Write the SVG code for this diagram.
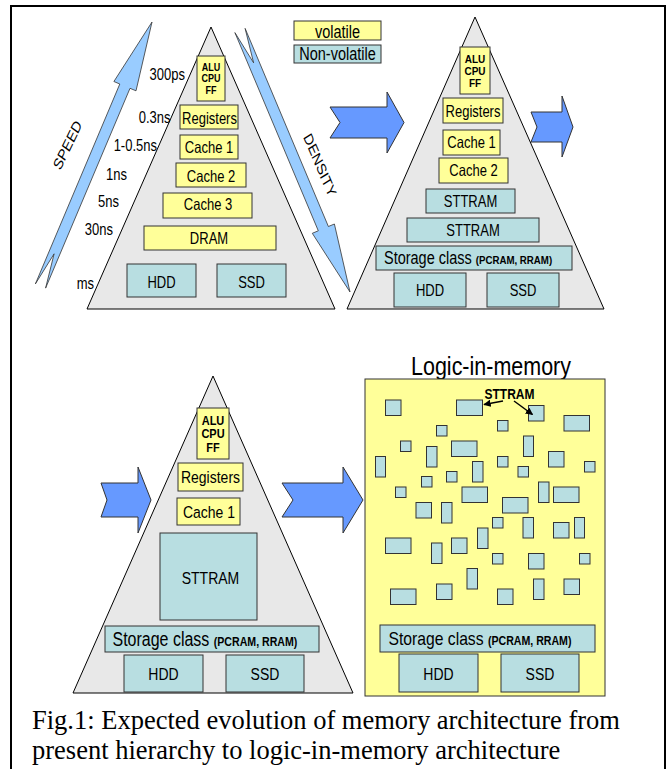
<svg xmlns="http://www.w3.org/2000/svg" width="670" height="769" viewBox="0 0 670 769">
<style>
.tri{fill:#E8E8E8;stroke:#000;stroke-width:1}
.v{fill:#FFFF99;stroke:#333;stroke-width:1}
.nv{fill:#B8DEE1;stroke:#333;stroke-width:1}
.ba{fill:#6699FF;stroke:#333;stroke-width:1}
.la{fill:#99CCFF;stroke:#333;stroke-width:0.8}
.t{font-family:"Liberation Sans",Arial,sans-serif;fill:#000;text-anchor:middle}
.s{text-anchor:start}
.e{text-anchor:end}
.b{font-weight:bold}
.cap{font-family:"Liberation Serif","Times New Roman",serif;fill:#000;font-size:26.5px}
.ptr{stroke:#000;stroke-width:1.5;fill:none;marker-end:url(#ah)}
</style>
<defs>
<marker id="ah" viewBox="0 0 10 10" refX="9" refY="5" markerWidth="5" markerHeight="5" orient="auto" markerUnits="strokeWidth">
<path d="M0,0 L10,5 L0,10 z" fill="#000"/>
</marker>
</defs>
<rect width="670" height="769" fill="#fff"/>
<g id="frame" fill="none" stroke="#000" stroke-width="2">
<path d="M11,769 V6 H665 V769"/>
</g>

<g id="pyr1">
<polygon class="tri" points="211,27 335,309 87,309"/>
<g id="p1-alu"><rect class="v" x="197" y="56" width="28" height="45"/>
<text class="t b" font-size="9" transform="translate(211,70.5) scale(1,1.15)">ALU</text>
<text class="t b" font-size="9" transform="translate(211,82.3) scale(1,1.15)">CPU</text>
<text class="t b" font-size="9" transform="translate(211,94.2) scale(1,1.15)">FF</text></g>
<g id="p1-reg"><rect class="v" x="180" y="105" width="58" height="24"/>
<text class="t" font-size="13" transform="translate(209.5,123.5) scale(1,1.22)">Registers</text></g>
<g id="p1-c1"><rect class="v" x="180" y="135" width="58" height="24"/>
<text class="t" font-size="13" transform="translate(209,152.5) scale(1,1.22)">Cache 1</text></g>
<g id="p1-c2"><rect class="v" x="176" y="163" width="70" height="24"/>
<text class="t" font-size="13" transform="translate(211,181.5) scale(1,1.22)">Cache 2</text></g>
<g id="p1-c3"><rect class="v" x="163" y="193" width="89" height="25"/>
<text class="t" font-size="13" transform="translate(208,210) scale(1,1.22)">Cache 3</text></g>
<g id="p1-dram"><rect class="v" x="144" y="226" width="132" height="24"/>
<text class="t" font-size="13" transform="translate(209,243.5) scale(1,1.22)">DRAM</text></g>
<g id="p1-hdd"><rect class="nv" x="127" y="264" width="69" height="33"/>
<text class="t" font-size="13" transform="translate(161.5,287.5) scale(1,1.22)">HDD</text></g>
<g id="p1-ssd"><rect class="nv" x="217" y="264" width="69" height="33"/>
<text class="t" font-size="13" transform="translate(251.5,287.5) scale(1,1.22)">SSD</text></g>
</g>

<g id="speed-labels">
<text class="t e" font-size="13" transform="translate(185,80) scale(1,1.22)">300ps</text>
<text class="t e" font-size="13" transform="translate(170.5,122.5) scale(1,1.22)">0.3ns</text>
<text class="t e" font-size="13" transform="translate(157,150.5) scale(1,1.22)">1-0.5ns</text>
<text class="t e" font-size="13" transform="translate(127,180) scale(1,1.22)">1ns</text>
<text class="t e" font-size="13" transform="translate(119,207) scale(1,1.22)">5ns</text>
<text class="t e" font-size="13" transform="translate(113,235) scale(1,1.22)">30ns</text>
<text class="t e" font-size="13" transform="translate(94,289) scale(1,1.22)">ms</text>
</g>

<g id="legend">
<g id="leg-v"><rect class="v" x="294" y="21" width="87" height="19"/>
<text class="t" font-size="14.5" transform="translate(337.5,37.5) scale(1,1.22)">volatile</text></g>
<g id="leg-nv"><rect class="nv" x="294" y="45" width="87" height="18"/>
<text class="t" font-size="14.5" transform="translate(337.5,60) scale(1,1.22)">Non-volatile</text></g>
</g>

<g id="speed-arrow">
<polygon class="la" points="35.4,283.9 119.8,84 113.9,81.5 152,22 136,90.8 130,88.3 45.6,288.1 54.1,253.8"/>
<text class="t" font-size="13" transform="translate(67.5,145) scale(1,1.22) rotate(-59.4)" y="4.5">SPEED</text>
</g>
<g id="density-arrow">
<polygon class="la" points="234.9,32.6 318.3,230.8 312.3,233.3 350,292 334.4,224 328.4,226.5 245.1,28.4 253.6,62.8"/>
<text class="t" font-size="13" transform="translate(320,165) scale(1,1.22) rotate(62.8)" y="4.5">DENSITY</text>
</g>

<g id="pyr2">
<polygon class="tri" points="475,17 604,309 347,309"/>
<g id="p2-alu"><rect class="v" x="460" y="47" width="30" height="47"/>
<text class="t b" font-size="10" transform="translate(475,63.3) scale(1,1.12)">ALU</text>
<text class="t b" font-size="10" transform="translate(475,75.3) scale(1,1.12)">CPU</text>
<text class="t b" font-size="10" transform="translate(475,87.3) scale(1,1.12)">FF</text></g>
<g id="p2-reg"><rect class="v" x="443" y="98" width="60" height="25"/>
<text class="t" font-size="13" transform="translate(473,116.5) scale(1,1.22)">Registers</text></g>
<g id="p2-c1"><rect class="v" x="443" y="130" width="57" height="25"/>
<text class="t" font-size="13" transform="translate(471.5,148) scale(1,1.22)">Cache 1</text></g>
<g id="p2-c2"><rect class="v" x="439" y="158" width="69" height="25"/>
<text class="t" font-size="13" transform="translate(473.5,176) scale(1,1.22)">Cache 2</text></g>
<g id="p2-st1"><rect class="nv" x="426" y="189" width="89" height="24"/>
<text class="t" font-size="13" transform="translate(470.5,206.5) scale(1,1.22)">STTRAM</text></g>
<g id="p2-st2"><rect class="nv" x="407" y="218" width="132" height="24"/>
<text class="t" font-size="13" transform="translate(473,235.5) scale(1,1.22)">STTRAM</text></g>
<g id="p2-sc"><rect class="nv" x="376" y="246" width="196" height="24"/>
<text class="t s" font-size="14.5" transform="translate(384,264) scale(1,1.22)">Storage class <tspan class="b" font-size="9.7">(PCRAM, RRAM)</tspan></text></g>
<g id="p2-hdd"><rect class="nv" x="394" y="273" width="72" height="34"/>
<text class="t" font-size="13" transform="translate(430,296) scale(1,1.22)">HDD</text></g>
<g id="p2-ssd"><rect class="nv" x="487" y="273" width="72" height="34"/>
<text class="t" font-size="13" transform="translate(523,296) scale(1,1.22)">SSD</text></g>
</g>

<g id="pyr3">
<polygon class="tri" points="213,376 353,693 73,693"/>
<g id="p3-alu"><rect class="v" x="197" y="408" width="32" height="51"/>
<text class="t b" font-size="11" transform="translate(213,425) scale(1,1.12)">ALU</text>
<text class="t b" font-size="11" transform="translate(213,438.3) scale(1,1.12)">CPU</text>
<text class="t b" font-size="11" transform="translate(213,451.7) scale(1,1.12)">FF</text></g>
<g id="p3-reg"><rect class="v" x="178" y="463" width="65" height="28"/>
<text class="t" font-size="14" transform="translate(210.5,483) scale(1,1.22)">Registers</text></g>
<g id="p3-c1"><rect class="v" x="177" y="498" width="63" height="27"/>
<text class="t" font-size="14" transform="translate(209,517.5) scale(1,1.22)">Cache 1</text></g>
<g id="p3-st"><rect class="nv" x="160" y="533" width="97" height="87"/>
<text class="t" font-size="14" transform="translate(210.5,583.5) scale(1,1.22)">STTRAM</text></g>
<g id="p3-sc"><rect class="nv" x="105" y="626" width="214" height="26"/>
<text class="t s" font-size="16" transform="translate(112.5,645.5) scale(1,1.22)">Storage class <tspan class="b" font-size="10.6">(PCRAM, RRAM)</tspan></text></g>
<g id="p3-hdd"><rect class="nv" x="124" y="655" width="79" height="37"/>
<text class="t" font-size="14" transform="translate(163.5,680) scale(1,1.22)">HDD</text></g>
<g id="p3-ssd"><rect class="nv" x="226" y="655" width="78" height="37"/>
<text class="t" font-size="14" transform="translate(265,680) scale(1,1.22)">SSD</text></g>
</g>

<g id="connectors">
<polygon class="ba" points="330,107 387,107 387,92 404,122.5 387,153 387,138 330,138 340,122.5"/>
<polygon class="ba" points="531,112 562,112 562,96 573,127 562,157 562,142 531,142 537,127"/>
<polygon class="ba" points="101,483 138,483 138,467 151,500 138,533 138,517 101,517 107,500"/>
<polygon class="ba" points="282,483 343,483 343,467 363,500 343,533 343,517 282,517 293,500"/>
</g>

<g id="lim">
<text class="t" font-size="21.5" transform="translate(491,375) scale(1,1.2)">Logic-in-memory</text>
<rect class="v" x="365" y="379" width="240" height="317"/>
<g id="lim-cells">
<rect class="nv" x="385.5" y="400" width="15.5" height="15.5"/>
<rect class="nv" x="456.5" y="400" width="26" height="15.5"/>
<rect class="nv" x="528.5" y="405.5" width="15.5" height="15.5"/>
<rect class="nv" x="564" y="415.5" width="25.5" height="15.5"/>
<rect class="nv" x="436.5" y="425.5" width="10.5" height="10.5"/>
<rect class="nv" x="497.5" y="420.5" width="10.5" height="10.5"/>
<rect class="nv" x="400.5" y="441" width="10.5" height="10.5"/>
<rect class="nv" x="426.5" y="446.5" width="10.5" height="20.5"/>
<rect class="nv" x="451.5" y="441" width="25.5" height="15.5"/>
<rect class="nv" x="523.5" y="436" width="10" height="20.5"/>
<rect class="nv" x="375.5" y="456.5" width="10" height="20.5"/>
<rect class="nv" x="497.5" y="456.5" width="10.5" height="10.5"/>
<rect class="nv" x="548.5" y="451.5" width="15.5" height="15.5"/>
<rect class="nv" x="584.5" y="461.5" width="10.5" height="10.5"/>
<rect class="nv" x="472.5" y="461.5" width="10.5" height="20.5"/>
<rect class="nv" x="518" y="466.5" width="10.5" height="10.5"/>
<rect class="nv" x="446.5" y="471.5" width="10.5" height="10.5"/>
<rect class="nv" x="421.5" y="476.5" width="10.5" height="10.5"/>
<rect class="nv" x="395.5" y="487" width="10.5" height="10.5"/>
<rect class="nv" x="462" y="487" width="25.5" height="15.5"/>
<rect class="nv" x="538.5" y="482" width="10.5" height="20.5"/>
<rect class="nv" x="553.5" y="487" width="25.5" height="15.5"/>
<rect class="nv" x="416" y="502.5" width="15.5" height="15.5"/>
<rect class="nv" x="441.5" y="502.5" width="10.5" height="20.5"/>
<rect class="nv" x="502.5" y="497.5" width="25.5" height="15.5"/>
<rect class="nv" x="492.5" y="517.5" width="10.5" height="10.5"/>
<rect class="nv" x="523" y="517.5" width="10.5" height="20.5"/>
<rect class="nv" x="553.5" y="522.5" width="15.5" height="15.5"/>
<rect class="nv" x="574.5" y="517.5" width="10" height="20.5"/>
<rect class="nv" x="477.5" y="528" width="10.5" height="20.5"/>
<rect class="nv" x="385.5" y="538" width="25.5" height="15.5"/>
<rect class="nv" x="451.5" y="538" width="15.5" height="15.5"/>
<rect class="nv" x="431.5" y="543" width="10.5" height="20.5"/>
<rect class="nv" x="492.5" y="553.5" width="10.5" height="10.5"/>
<rect class="nv" x="528.5" y="553.5" width="15.5" height="15.5"/>
<rect class="nv" x="579.5" y="553.5" width="10.5" height="10.5"/>
<rect class="nv" x="467" y="568.5" width="10.5" height="20.5"/>
<rect class="nv" x="390.5" y="589" width="25.5" height="15.5"/>
<rect class="nv" x="436.5" y="584" width="15.5" height="15.5"/>
<rect class="nv" x="497.5" y="589" width="15.5" height="15.5"/>
<rect class="nv" x="533.5" y="579" width="10.5" height="20.5"/>
<rect class="nv" x="564" y="579" width="15.5" height="15.5"/>
</g>
<g id="lim-label">
<text class="t b" font-size="12" transform="translate(509.5,399) scale(1,1.22)">STTRAM</text>
<line class="ptr" x1="503" y1="401" x2="484" y2="404.5"/>
<line class="ptr" x1="514" y1="401" x2="532.5" y2="414.5"/>
</g>
<g id="lim-sc"><rect class="nv" x="380" y="625" width="215" height="27"/>
<text class="t s" font-size="15.7" transform="translate(388.5,645) scale(1,1.22)">Storage class <tspan class="b" font-size="10.6">(PCRAM, RRAM)</tspan></text></g>
<g id="lim-hdd"><rect class="nv" x="399" y="654" width="79" height="38"/>
<text class="t" font-size="14" transform="translate(438.5,680) scale(1,1.22)">HDD</text></g>
<g id="lim-ssd"><rect class="nv" x="501" y="654" width="78" height="38"/>
<text class="t" font-size="14" transform="translate(540,680) scale(1,1.22)">SSD</text></g>
</g>

<g id="caption">
<text class="cap" x="32" y="729">Fig.1: Expected evolution of memory architecture from</text>
<text class="cap" x="32" y="758.5">present hierarchy to logic-in-memory architecture</text>
</g>
</svg>
